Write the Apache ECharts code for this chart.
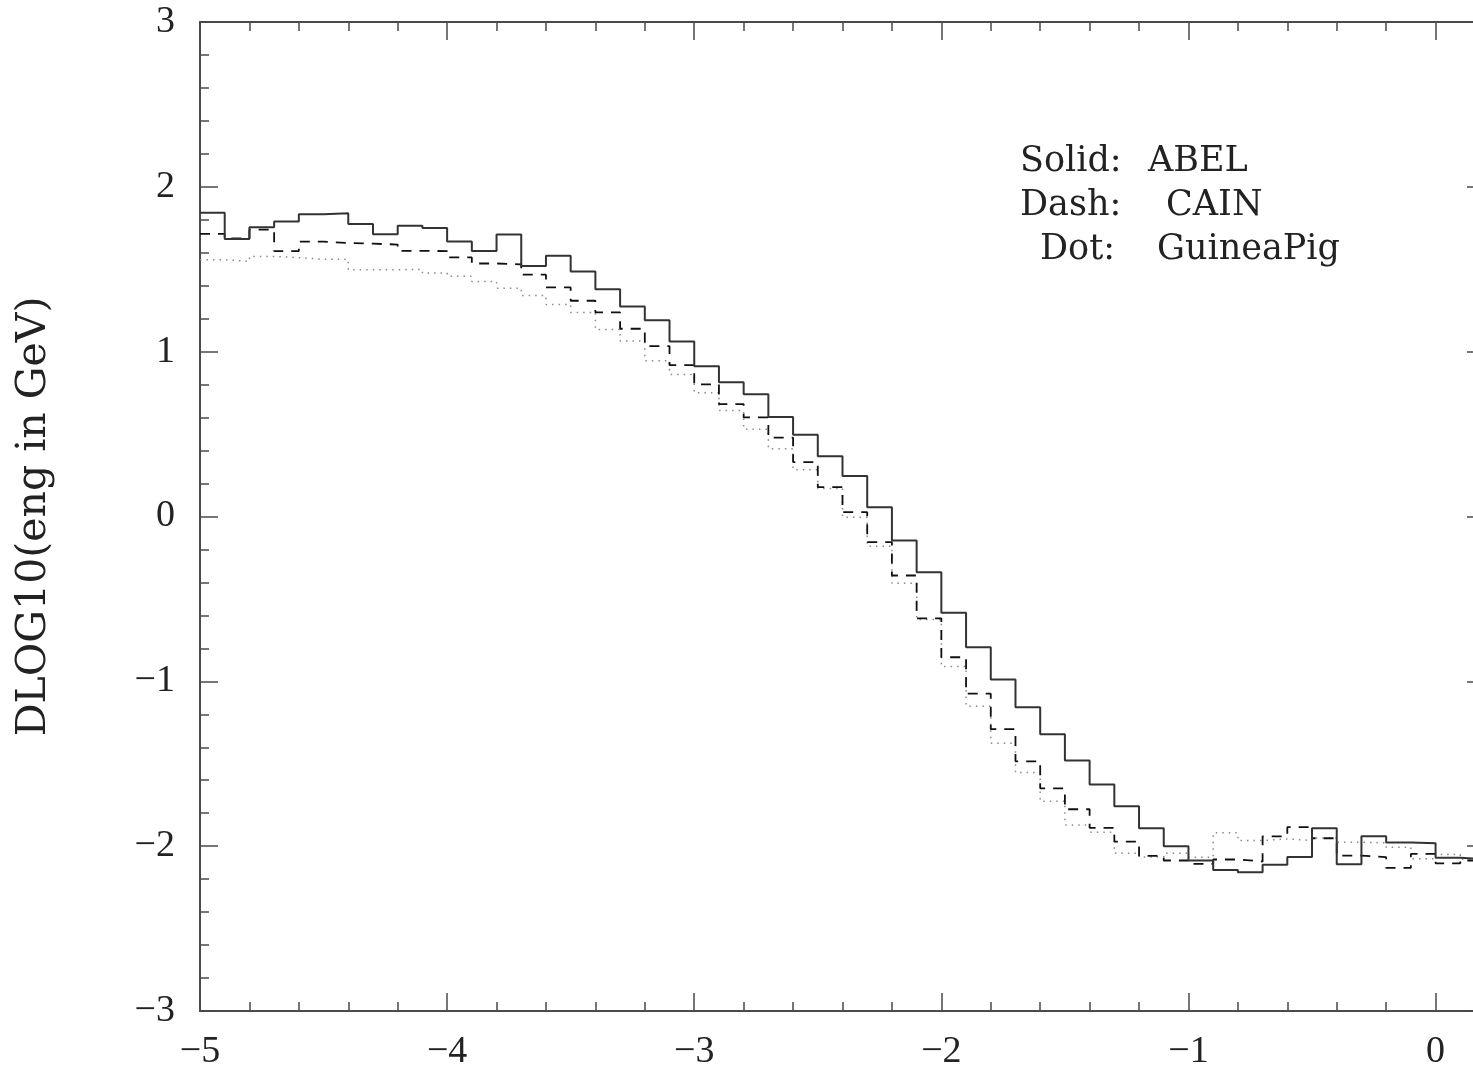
<!DOCTYPE html>
<html>
<head>
<meta charset="utf-8">
<script src="https://cdn.jsdelivr.net/npm/echarts@6/dist/echarts.min.js"></script>
<style>
html,body{margin:0;padding:0;background:#ffffff;}
#chart{width:1473px;height:1066px;}
</style>
</head>
<body>
<div id="chart"></div>
<script>
// Histogram bin edges (log10 of x variable), 0.1 wide
const binEdges = [
  -5.0,-4.9,-4.8,-4.7,-4.6,-4.5,-4.4,-4.3,-4.2,-4.1,
  -4.0,-3.9,-3.8,-3.7,-3.6,-3.5,-3.4,-3.3,-3.2,-3.1,
  -3.0,-2.9,-2.8,-2.7,-2.6,-2.5,-2.4,-2.3,-2.2,-2.1,
  -2.0,-1.9,-1.8,-1.7,-1.6,-1.5,-1.4,-1.3,-1.2,-1.1,
  -1.0,-0.9,-0.8,-0.7,-0.6,-0.5,-0.4,-0.3,-0.2,-0.1,
   0.0, 0.1, 0.2
];

// Solid: ABEL
const abel = [
  1.843,1.683,1.755,1.790,1.833,1.840,1.774,1.713,1.764,1.750,
  1.669,1.610,1.711,1.519,1.582,1.487,1.379,1.274,1.191,1.062,
  0.912,0.815,0.742,0.603,0.496,0.366,0.245,0.056,-0.146,-0.338,
  -0.584,-0.793,-0.989,-1.157,-1.321,-1.481,-1.626,-1.758,-1.891,-2.001,
  -2.087,-2.144,-2.158,-2.112,-2.065,-1.891,-2.110,-1.940,-1.978,-1.982,
  -2.070,-2.080
];

// Dash: CAIN
const cain = [
  1.715,1.687,1.740,1.610,1.667,1.659,1.655,1.650,1.612,1.610,
  1.572,1.535,1.530,1.467,1.390,1.309,1.238,1.139,1.034,0.918,
  0.801,0.682,0.601,0.478,0.330,0.178,0.026,-0.156,-0.358,-0.618,
  -0.854,-1.075,-1.290,-1.485,-1.649,-1.776,-1.889,-1.972,-2.059,-2.087,
  -2.108,-2.081,-2.093,-1.940,-1.885,-1.952,-2.057,-2.067,-2.132,-2.047,
  -2.104,-2.087
];

// Dot: GuineaPig
const guineaPig = [
  1.558,1.547,1.578,1.570,1.561,1.561,1.497,1.497,1.499,1.477,
  1.458,1.426,1.385,1.341,1.286,1.238,1.135,1.064,0.945,0.862,
  0.751,0.643,0.530,0.411,0.283,0.170,-0.004,-0.180,-0.405,-0.625,
  -0.910,-1.151,-1.376,-1.553,-1.728,-1.871,-1.916,-2.043,-2.065,-2.043,
  -2.067,-1.919,-1.966,-1.956,-1.966,-1.950,-1.976,-1.980,-2.006,-2.077,
  -2.051,-2.080
];

const yAxisTitle = 'DLOG10(eng in GeV)';
const noteLines = [
  ['Solid:', 'ABEL'],
  ['Dash:', 'CAIN'],
  ['Dot:', 'GuineaPig']
];

function stepData(vals) {
  return binEdges.map((e, i) => [e, vals[Math.min(i, vals.length - 1)]]);
}
function fmt(v) {
  const r = Math.round(v * 1000) / 1000;
  if (r < 0) return '\u2212' + Math.abs(r);
  return String(Math.abs(r));
}

const axisColor = '#4a4a4a';
const tickFont = { fontSize: 38, fontFamily: 'Liberation Serif', color: '#222' };

function baseAxis(extra) {
  return Object.assign({
    type: 'value',
    axisLine: { show: true, onZero: false, lineStyle: { color: axisColor, width: 2 } },
    axisTick: { show: true, inside: true, length: 18, lineStyle: { color: axisColor, width: 1.5 } },
    minorTick: { show: true, splitNumber: 5, length: 9, lineStyle: { color: axisColor, width: 1.5 } },
    splitLine: { show: false },
    minorSplitLine: { show: false }
  }, extra);
}

const chart = echarts.init(document.getElementById('chart'), null, { renderer: 'canvas' });

const textStyleBase = { fontSize: 35, fontFamily: 'DejaVu Serif', fill: '#222' };
const graphics = [];
const notePos = [
  { y: 164, x1: 1020, x2: 1148 },
  { y: 208, x1: 1020, x2: 1166 },
  { y: 252, x1: 1040, x2: 1157 }
];
noteLines.forEach((ln, i) => {
  const p = notePos[i];
  graphics.push({ type: 'text', left: p.x1, top: p.y - 20, style: Object.assign({ text: ln[0] }, textStyleBase) });
  graphics.push({ type: 'text', left: p.x2, top: p.y - 20, style: Object.assign({ text: ln[1] }, textStyleBase) });
});

chart.setOption({
  animation: false,
  backgroundColor: '#ffffff',
  grid: { left: 200, top: 22, right: -12, bottom: 55, containLabel: false, outerBoundsMode: 'none' },
  xAxis: [
    baseAxis({
      position: 'bottom', min: -5, max: 0.2, interval: 1,
      axisLabel: Object.assign({ margin: 22, formatter: fmt, showMaxLabel: false }, tickFont)
    }),
    baseAxis({
      position: 'top', min: -5, max: 0.2, interval: 1,
      axisLabel: { show: false }
    })
  ],
  yAxis: [
    baseAxis({
      position: 'left', min: -3, max: 3, interval: 1,
      name: yAxisTitle, nameLocation: 'middle', nameGap: 145, nameRotate: 90,
      nameTextStyle: { fontSize: 41, fontFamily: 'DejaVu Serif', color: '#222' },
      axisLabel: Object.assign({ margin: 25, formatter: fmt }, tickFont)
    }),
    baseAxis({
      position: 'right', min: -3, max: 3, interval: 1,
      axisLabel: { show: false }
    })
  ],
  series: [
    {
      name: 'GuineaPig', type: 'line', step: 'end', showSymbol: false,
      data: stepData(guineaPig),
      lineStyle: { color: '#8a8a8a', width: 1.5, type: [1.5, 5] },
      z: 2
    },
    {
      name: 'CAIN', type: 'line', step: 'end', showSymbol: false,
      data: stepData(cain),
      lineStyle: { color: '#111', width: 1.8, type: [10, 8] },
      z: 3
    },
    {
      name: 'ABEL', type: 'line', step: 'end', showSymbol: false,
      data: stepData(abel),
      lineStyle: { color: '#333', width: 2 },
      z: 4
    }
  ],
  graphic: graphics
});
</script>
</body>
</html>
